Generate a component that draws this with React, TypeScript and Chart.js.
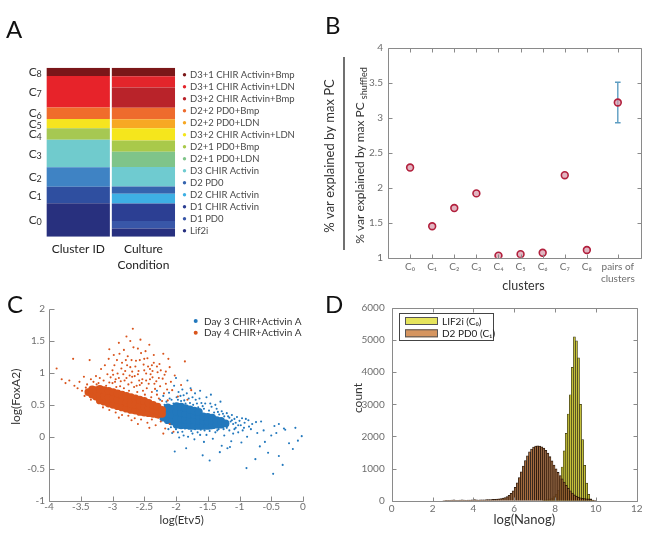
import React, { useEffect, useRef } from 'react';
import { Chart, registerables } from 'chart.js';

Chart.register(...registerables);

const FONT = "Lato, 'Noto Sans', 'DejaVu Sans', sans-serif";
const TICK_GRAY = '#6e6e6e';
const AXIS_GRAY = '#8a8a8a';

/* ---------- Panel A ---------- */
const clusterIds = ['C₀', 'C₁', 'C₂', 'C₃', 'C₄', 'C₅', 'C₆', 'C₇', 'C₈'];
const clusterShares = [19.8, 9.8, 11.5, 16.2, 6.9, 5.5, 6.7, 18.7, 4.9];
const clusterColors = ['#28307e', '#2f4fa0', '#3f83c4', '#70cbcd', '#a6c852', '#f5e41f', '#f06c2b', '#e7232a', '#7a1619'];
const cultureConditions = [
  'Lif2i', 'D1 PD0', 'D1 CHIR Activin', 'D2 CHIR Activin', 'D2 PD0', 'D3 CHIR Activin',
  'D2+1 PD0+LDN', 'D2+1 PD0+Bmp', 'D3+2 CHIR Activin+LDN', 'D2+2 PD0+LDN', 'D2+2 PD0+Bmp',
  'D3+2 CHIR Activin+Bmp', 'D3+1 CHIR Activin+LDN', 'D3+1 CHIR Activin+Bmp',
];
const cultureShares = [4.9, 4.4, 10.4, 5.7, 4.3, 11.5, 9.1, 6.6, 7.2, 5.4, 6.8, 12.0, 6.6, 5.1];
const cultureColors = ['#27307f', '#3957a8', '#2c3f93', '#3eb0e4', '#3564ae', '#6fcbd0', '#7fc48a', '#a9c94a', '#f5e61c', '#f7a823', '#ee6b2d', '#b9232a', '#e3252b', '#7b1718'];
const columnLabels = ['Cluster ID', ['Culture', 'Condition']];

/* ---------- Panel B ---------- */
const bLabels = ['C₀', 'C₁', 'C₂', 'C₃', 'C₄', 'C₅', 'C₆', 'C₇', 'C₈', ['pairs of', 'clusters']];
const bPositions = [1, 2, 3, 4, 5, 6, 7, 8, 9, 10.4];
const bValues = [2.29, 1.45, 1.71, 1.92, 1.03, 1.05, 1.07, 2.18, 1.11, 3.22];
const bErrLow = [null, null, null, null, null, null, null, null, null, 2.93];
const bErrHigh = [null, null, null, null, null, null, null, null, null, 3.51];

/* ---------- Panel C ---------- */
const cSeries = ['Day 3 CHIR+Activin A', 'Day 4 CHIR+Activin A'];
const cColors = ['#2278bd', '#d9541c'];
const day4Core = [
  [-3.38, 0.70], [-3.32, 0.66], [-3.32, 0.74], [-3.26, 0.63], [-3.26, 0.73],
  [-3.20, 0.57], [-3.20, 0.66], [-3.20, 0.75], [-3.13, 0.55], [-3.13, 0.64], [-3.13, 0.73],
  [-3.06, 0.52], [-3.06, 0.62], [-3.06, 0.72], [-2.99, 0.50], [-2.99, 0.60], [-2.99, 0.70],
  [-2.92, 0.48], [-2.92, 0.58], [-2.92, 0.68], [-2.85, 0.46], [-2.85, 0.56], [-2.85, 0.66],
  [-2.78, 0.44], [-2.78, 0.54], [-2.78, 0.64], [-2.71, 0.42], [-2.71, 0.52], [-2.71, 0.62],
  [-2.64, 0.41], [-2.64, 0.50], [-2.64, 0.60], [-2.57, 0.39], [-2.57, 0.49], [-2.57, 0.58],
  [-2.50, 0.38], [-2.50, 0.47], [-2.50, 0.56], [-2.43, 0.37], [-2.43, 0.45], [-2.43, 0.53],
  [-2.36, 0.36], [-2.36, 0.43], [-2.36, 0.50], [-2.29, 0.35], [-2.29, 0.41], [-2.29, 0.47],
  [-2.22, 0.36], [-2.22, 0.42],
];
const day4Spread = [
  [-3.88, 1.07], [-3.8, 0.9], [-3.74, 0.84], [-3.68, 0.88], [-3.62, 1.22], [-3.6, 0.8], [-3.55, 0.76],
  [-3.52, 0.86], [-3.48, 0.72], [-3.45, 0.94], [-3.44, 0.64], [-3.4, 0.82], [-3.36, 1.2], [-3.34, 0.58],
  [-3.3, 0.86], [-3.26, 0.95], [-3.22, 0.84], [-3.18, 1.06], [-3.14, 0.88], [-3.1, 0.8], [-3.06, 1.22],
  [-3.03, 0.93], [-3.0, 0.84], [-2.97, 1.12], [-2.94, 0.78], [-2.92, 0.99], [-2.89, 1.3], [-2.87, 0.87],
  [-2.85, 1.16], [-2.82, 0.76], [-2.8, 1.03], [-2.78, 0.92], [-2.76, 1.26], [-2.74, 0.72], [-2.72, 1.09],
  [-2.7, 0.85], [-2.67, 1.4], [-2.65, 0.95], [-2.63, 1.19], [-2.61, 0.7], [-2.59, 1.03], [-2.57, 0.81],
  [-2.55, 1.31], [-2.53, 0.9], [-2.51, 1.13], [-2.49, 0.66], [-2.47, 0.99], [-2.45, 1.23], [-2.43, 0.83],
  [-2.41, 1.06], [-2.39, 0.62], [-2.37, 0.93], [-2.35, 1.16], [-2.33, 0.75], [-2.31, 0.87], [-2.29, 1.01],
  [-2.27, 0.6], [-2.25, 0.79], [-2.21, 0.91], [-2.19, 0.68], [-2.16, 0.83], [-2.13, 0.57], [-2.1, 1.09],
  [-2.06, 0.73], [-2.02, 0.96], [-1.97, 0.63], [-1.92, 0.81], [-1.86, 1.18], [-1.82, 0.58], [-1.76, 0.73],
  [-2.95, 0.9], [-2.83, 0.98], [-2.69, 0.94], [-2.58, 0.88], [-2.46, 0.76], [-2.38, 0.7], [-2.62, 0.8],
  [-2.75, 0.82], [-2.88, 0.79], [-3.05, 0.85], [-2.52, 0.72], [-2.4, 0.98], [-2.3, 0.66], [-2.22, 0.56],
  [-2.68, 1.69], [-2.78, 1.57], [-2.9, 1.47], [-2.56, 1.52], [-3.05, 1.37], [-2.42, 1.44], [-2.2, 1.3],
  [-2.72, 1.5], [-2.6, 1.38], [-2.48, 1.34], [-2.82, 1.36], [-2.98, 1.28], [-2.35, 1.28], [-2.12, 1.22],
  [-3.15, 0.46], [-3.05, 0.42], [-2.95, 0.38], [-2.85, 0.34], [-2.75, 0.33], [-2.65, 0.29], [-2.55, 0.27],
  [-2.45, 0.22], [-2.38, 0.27], [-2.32, 0.18], [-2.24, 0.24], [-2.17, 0.13], [-2.1, 0.2], [-2.04, 0.08],
  [-2.6, 0.2], [-2.7, 0.26], [-2.9, 0.3], [-2.42, 0.14], [-2.28, 0.3], [-2.2, 0.05],
  [-3.08, 0.98], [-3.0, 1.04], [-2.96, 0.86], [-2.9, 0.92], [-2.86, 1.07], [-2.81, 0.88], [-2.77, 1.12],
  [-2.73, 0.96], [-2.69, 1.02], [-2.66, 0.78], [-2.64, 1.1], [-2.6, 0.98], [-2.57, 1.2], [-2.54, 0.84],
  [-2.5, 1.04], [-2.47, 0.88], [-2.44, 1.1], [-2.41, 0.9], [-2.37, 1.03], [-2.34, 0.83], [-2.3, 1.1],
  [-2.27, 0.92], [-2.24, 1.04], [-2.18, 0.97], [-2.14, 0.74], [-2.08, 0.86], [-3.2, 0.92], [-3.16, 0.78],
  [-3.25, 0.82], [-3.12, 1.12], [-2.99, 0.97], [-2.93, 1.2], [-2.79, 1.2], [-2.7, 1.2], [-2.5, 1.22],
  [-2.38, 1.12], [-2.26, 1.14], [-2.16, 1.02], [-3.34, 0.9], [-3.42, 0.77],
];
const day3Core = [
  [-2.20, 0.30], [-2.20, 0.40], [-2.13, 0.26], [-2.13, 0.36], [-2.13, 0.46],
  [-2.06, 0.24], [-2.06, 0.34], [-2.06, 0.44], [-1.99, 0.19], [-1.99, 0.29], [-1.99, 0.39], [-1.99, 0.48],
  [-1.92, 0.18], [-1.92, 0.28], [-1.92, 0.38], [-1.92, 0.47], [-1.85, 0.18], [-1.85, 0.27], [-1.85, 0.36], [-1.85, 0.45],
  [-1.78, 0.17], [-1.78, 0.26], [-1.78, 0.35], [-1.78, 0.43], [-1.71, 0.17], [-1.71, 0.26], [-1.71, 0.34], [-1.71, 0.41],
  [-1.64, 0.17], [-1.64, 0.25], [-1.64, 0.33], [-1.64, 0.39], [-1.57, 0.17], [-1.57, 0.25], [-1.57, 0.32],
  [-1.50, 0.17], [-1.50, 0.24], [-1.50, 0.31], [-1.43, 0.18], [-1.43, 0.25], [-1.43, 0.30],
  [-1.36, 0.19], [-1.36, 0.26], [-1.29, 0.19], [-1.29, 0.25], [-1.22, 0.21],
];
const day3Spread = [
  [-2.3, 0.72], [-2.25, 0.58], [-2.2, 0.64], [-2.15, 0.55], [-2.11, 0.69], [-2.07, 0.58], [-2.03, 0.8],
  [-1.99, 0.62], [-1.96, 0.7], [-1.92, 0.56], [-1.88, 0.65], [-1.85, 0.52], [-1.8, 0.6], [-1.77, 0.76],
  [-1.73, 0.5], [-1.69, 0.58], [-1.65, 0.46], [-1.6, 0.53], [-1.56, 0.44], [-1.52, 0.62], [-1.48, 0.41],
  [-1.44, 0.47], [-1.4, 0.38], [-1.36, 0.44], [-1.32, 0.35], [-1.28, 0.4], [-1.24, 0.32], [-1.2, 0.37],
  [-1.16, 0.3], [-1.12, 0.34], [-1.08, 0.28], [-1.04, 0.31], [-1.0, 0.25], [-0.96, 0.29], [-0.92, 0.22],
  [-0.86, 0.26], [-0.8, 0.2], [-0.74, 0.23], [-2.0, 0.92], [-1.82, 0.88], [-1.62, 0.72], [-1.45, 0.66],
  [-1.7, 0.68], [-1.9, 0.74], [-1.3, 0.55],
  [-2.12, 0.12], [-2.06, 0.06], [-2.0, 0.12], [-1.95, -0.01], [-1.9, 0.08], [-1.86, 0.13], [-1.81, 0.0],
  [-1.76, 0.09], [-1.71, -0.04], [-1.66, 0.07], [-1.61, 0.11], [-1.56, -0.08], [-1.52, 0.03], [-1.47, 0.09],
  [-1.42, -0.03], [-1.38, 0.07], [-1.33, 0.12], [-1.28, -0.14], [-1.24, 0.02], [-1.19, -0.18], [-1.16, 0.1],
  [-1.13, -0.07], [-1.1, 0.05], [-1.06, 0.14], [-1.02, 0.07], [-0.97, -0.09], [-1.58, -0.29], [-1.47, -0.37],
  [-1.31, -0.24], [-2.02, -0.23], [-1.84, -0.18], [-1.15, -0.16], [-1.4, 0.14], [-1.7, 0.12],
  [-0.88, 0.0], [-0.82, 0.12], [-0.72, 0.06], [-0.66, 0.24], [-0.6, -0.08], [-0.55, -0.25], [-0.5, 0.02],
  [-0.45, 0.17], [-0.42, 0.06], [-0.38, -0.3], [-0.32, -0.44], [-0.28, 0.11], [-0.22, -0.1], [-0.16, -0.19],
  [-0.12, 0.14], [-0.08, -0.06], [-0.02, 0.01], [-0.47, -0.58], [-0.89, -0.49], [-0.75, -0.35], [-0.38, 0.2],
  [-0.85, 0.16], [-0.3, 0.13], [-0.62, 0.1], [-0.95, 0.1], [-0.68, -0.15],
  [-2.18, 0.5], [-2.1, 0.6], [-2.04, 0.52], [-1.97, 0.58], [-1.93, 0.64], [-1.87, 0.57], [-1.83, 0.68],
  [-1.78, 0.53], [-1.74, 0.62], [-1.67, 0.52], [-1.63, 0.6], [-1.58, 0.48], [-1.54, 0.52], [-1.46, 0.52],
  [-1.38, 0.5], [-1.34, 0.39], [-1.26, 0.36], [-1.18, 0.32], [-1.14, 0.24], [-1.1, 0.2], [-1.06, 0.22],
  [-1.02, 0.18], [-1.2, 0.14], [-1.25, 0.12], [-1.35, 0.1], [-1.45, 0.13], [-1.55, 0.1], [-1.62, 0.03],
  [-1.74, 0.05], [-1.88, 0.02], [-1.97, 0.07], [-2.08, 0.15], [-1.12, 0.26], [-1.08, 0.12], [-0.98, 0.18],
  [-0.93, 0.14], [-0.9, 0.28],
];

/* ---------- Panel D ---------- */
const nanogSeries = ['LIF2i (C₀)', 'D2 PD0 (C₁)'];
const nanogBinCenters = [
  2.55, 2.65, 2.75, 2.85, 2.95,
  3.05, 3.15, 3.25, 3.35, 3.45, 3.55, 3.65, 3.75, 3.85, 3.95,
  4.05, 4.15, 4.25, 4.35, 4.45, 4.55, 4.65, 4.75, 4.85, 4.95,
  5.05, 5.15, 5.25, 5.35, 5.45, 5.55, 5.65, 5.75, 5.85, 5.95,
  6.05, 6.15, 6.25, 6.35, 6.45, 6.55, 6.65, 6.75, 6.85, 6.95,
  7.05, 7.15, 7.25, 7.35, 7.45, 7.55, 7.65, 7.75, 7.85, 7.95,
  8.05, 8.15, 8.25, 8.35, 8.45, 8.55, 8.65, 8.75, 8.85, 8.95,
  9.05, 9.15, 9.25, 9.35, 9.45, 9.55, 9.65, 9.75, 9.85, 9.95,
];
const lif2iCounts = [
  null, null, null, null, null,
  null, null, null, null, null, null, null, null, null, null,
  null, null, null, null, null, null, null, null, null, null,
  null, null, null, null, null, null, null, null, null, null,
  null, null, null, null, null, null, null, null, null, null,
  null, null, null, null, 15, 25, 35, 55, 85, 130,
  200, 320, 680, 1050, 1550, 2100, 2700, 3300, 4150, 5100,
  4980, 4450, 3000, 1900, 1100, 550, 200, 60, 15, null,
];
const d2pd0Counts = [
  5, 8, 10, 12, 20,
  25, 15, 12, 18, 30, 20, 15, 18, 22, 25,
  35, 25, 22, 25, 28, 30, 32, 35, 38, 40,
  45, 50, 58, 68, 80, 100, 130, 170, 230, 310,
  420, 560, 720, 900, 1080, 1250, 1400, 1520, 1610, 1670,
  1700, 1710, 1700, 1680, 1640, 1570, 1480, 1370, 1240, 1110,
  990, 880, 780, 680, 580, 480, 390, 310, 240, 180,
  140, 110, 90, 75, 65, 60, 55, 45, 20, 8,
];

/* ---------- helpers ---------- */
type TextItem = {
  text: string; x: number; y: number; font: string; color?: string; rotate?: boolean;
  align?: CanvasTextAlign; baseline?: CanvasTextBaseline; sub?: string; subFont?: string; subDy?: number;
};

function makeTexts(items: TextItem[]) {
  return {
    id: 'texts',
    afterDraw(chart: any) {
      const ctx = chart.ctx;
      for (const it of items) {
        ctx.save();
        ctx.translate(it.x, it.y);
        if (it.rotate) ctx.rotate(-Math.PI / 2);
        ctx.fillStyle = it.color || '#222';
        ctx.textBaseline = it.baseline || 'middle';
        ctx.font = it.font;
        if (it.sub) {
          const w1 = ctx.measureText(it.text).width;
          ctx.font = it.subFont;
          const w2 = ctx.measureText(it.sub).width;
          const start = -(w1 + w2) / 2;
          ctx.textAlign = 'left';
          ctx.font = it.font;
          ctx.fillText(it.text, start, 0);
          ctx.font = it.subFont;
          ctx.fillText(it.sub, start + w1, it.subDy || 0);
        } else {
          ctx.textAlign = it.align || 'center';
          ctx.fillText(it.text, 0, 0);
        }
        ctx.restore();
      }
    },
  };
}

function makeFrame(sides: string[], color: string, len: number) {
  return {
    id: 'frame',
    afterDraw(chart: any) {
      const { ctx, chartArea: ca } = chart;
      const xs = chart.scales.x;
      const ys = chart.scales.y;
      const L = Math.round(ca.left) + 0.5;
      const R = Math.round(ca.right) + 0.5;
      const T = Math.round(ca.top) + 0.5;
      const B = Math.round(ca.bottom) + 0.5;
      ctx.save();
      ctx.strokeStyle = color;
      ctx.lineWidth = 1;
      ctx.beginPath();
      if (sides.includes('left')) { ctx.moveTo(L, T); ctx.lineTo(L, B); }
      if (sides.includes('right')) { ctx.moveTo(R, T); ctx.lineTo(R, B); }
      if (sides.includes('top')) { ctx.moveTo(L, T); ctx.lineTo(R, T); }
      if (sides.includes('bottom')) { ctx.moveTo(L, B); ctx.lineTo(R, B); }
      xs.ticks.forEach((t: any) => {
        const p = Math.round(xs.getPixelForValue(t.value)) + 0.5;
        if (sides.includes('bottom')) { ctx.moveTo(p, B); ctx.lineTo(p, B - len); }
        if (sides.includes('top')) { ctx.moveTo(p, T); ctx.lineTo(p, T + len); }
      });
      ys.ticks.forEach((t: any) => {
        const p = Math.round(ys.getPixelForValue(t.value)) + 0.5;
        if (sides.includes('left')) { ctx.moveTo(L, p); ctx.lineTo(L + len, p); }
        if (sides.includes('right')) { ctx.moveTo(R, p); ctx.lineTo(R - len, p); }
      });
      ctx.stroke();
      ctx.restore();
    },
  };
}

const baseOptions = {
  responsive: false,
  maintainAspectRatio: false,
  animation: false,
  events: [],
};

const tickFont = { family: FONT, size: 10, lineHeight: 1.2 };

/* ---------- chart configs ---------- */
function configA(): any {
  const datasets = [
    ...clusterShares.map((v, i) => ({ label: clusterIds[i], data: [v, null], backgroundColor: clusterColors[i], stack: 's' })),
    ...cultureShares.map((v, i) => ({ label: cultureConditions[i], data: [null, v], backgroundColor: cultureColors[i], stack: 's' })),
  ];
  const legendA = {
    id: 'legendA',
    afterDraw(chart: any) {
      const { ctx, chartArea: ca } = chart;
      ctx.save();
      ctx.font = `9.5px ${FONT}`;
      ctx.textBaseline = 'middle';
      ctx.textAlign = 'left';
      const n = cultureConditions.length;
      for (let i = 0; i < n; i++) {
        const k = n - 1 - i;
        const y = ca.top + 7 + 12 * i;
        ctx.fillStyle = cultureColors[k];
        ctx.beginPath();
        ctx.arc(ca.right + 8.5, y, 1.7, 0, Math.PI * 2);
        ctx.fill();
        ctx.fillStyle = '#4a4a4a';
        ctx.fillText(cultureConditions[k], ca.right + 14, y + 0.5);
      }
      ctx.restore();
    },
  };
  // Cluster-ID labels on the y scale: "C" with a smaller, lowered index digit.
  const clusterLabels = {
    id: 'clusterLabels',
    afterDraw(chart: any) {
      const { ctx, chartArea: ca } = chart;
      const ys = chart.scales.y;
      ctx.save();
      ctx.fillStyle = '#333';
      ctx.textBaseline = 'alphabetic';
      ys.ticks.forEach((t: any, i: number) => {
        const y = ys.getPixelForValue(t.value) + 4;
        const digit = String(i);
        ctx.font = `9px ${FONT}`;
        const wd = ctx.measureText(digit).width;
        ctx.textAlign = 'right';
        const xr = ca.left - 4;
        ctx.fillText(digit, xr, y + 1.5);
        ctx.font = `12px ${FONT}`;
        ctx.fillText('C', xr - wd + 0.3, y);
      });
      ctx.restore();
    },
  };
  return {
    type: 'bar',
    data: { labels: columnLabels, datasets },
    options: {
      ...baseOptions,
      layout: { padding: { left: 0, top: 27.7, right: 144, bottom: 0 } },
      datasets: { bar: { barPercentage: 0.97, categoryPercentage: 1, borderWidth: 0 } },
      plugins: { legend: { display: false }, tooltip: { enabled: false } },
      scales: {
        x: {
          type: 'category', stacked: true,
          grid: { display: false, drawTicks: false }, border: { display: false },
          afterFit: (s: any) => { s.height = 43.3; },
          ticks: { color: '#222', font: { family: FONT, size: 12, lineHeight: 1.35 }, padding: 4.2, maxRotation: 0, autoSkip: false },
        },
        y: {
          type: 'linear', stacked: true, min: 0, max: 100,
          grid: { display: false, drawTicks: false }, border: { display: false },
          afterFit: (s: any) => { s.width = 45.7; },
          afterBuildTicks: (s: any) => {
            let acc = 0;
            s.ticks = clusterShares.map((v) => { const c = acc + v / 2; acc += v; return { value: c }; });
          },
          ticks: { display: false, autoSkip: false },
        },
      },
    },
    plugins: [legendA, clusterLabels],
  };
}

function configB(): any {
  const errorBars = {
    id: 'errorBars',
    beforeDatasetsDraw(chart: any) {
      const { ctx } = chart;
      const xs = chart.scales.x;
      const ys = chart.scales.y;
      ctx.save();
      ctx.strokeStyle = '#5d9dc2';
      ctx.lineWidth = 1.4;
      bPositions.forEach((p, i) => {
        const lo = bErrLow[i];
        const hi = bErrHigh[i];
        if (lo == null || hi == null) return;
        const px = xs.getPixelForValue(p);
        const y1 = ys.getPixelForValue(lo);
        const y2 = ys.getPixelForValue(hi);
        ctx.beginPath();
        ctx.moveTo(px, y1); ctx.lineTo(px, y2);
        ctx.moveTo(px - 2.8, y1); ctx.lineTo(px + 2.8, y1);
        ctx.moveTo(px - 2.8, y2); ctx.lineTo(px + 2.8, y2);
        ctx.stroke();
      });
      ctx.restore();
    },
  };
  const divider = {
    id: 'divider',
    afterDraw(chart: any) {
      const ctx = chart.ctx;
      ctx.save();
      ctx.strokeStyle = '#111';
      ctx.lineWidth = 1.2;
      ctx.beginPath();
      ctx.moveTo(26, 57); ctx.lineTo(26, 250);
      ctx.stroke();
      ctx.restore();
    },
  };
  const texts = makeTexts([
    { text: '% var explained by max PC', x: 16, y: 156, rotate: true, font: `13px ${FONT}`, color: '#333', baseline: 'alphabetic' },
    { text: '% var explained by max PC ', sub: 'shuffled', x: 46, y: 155.5, rotate: true, font: `12px ${FONT}`, subFont: `9px ${FONT}`, subDy: 2.5, color: '#333', baseline: 'alphabetic' },
    { text: 'clusters', x: 205.5, y: 286, font: `12.5px ${FONT}`, color: '#333' },
  ]);
  return {
    type: 'scatter',
    data: {
      datasets: [{
        data: bPositions.map((x, i) => ({ x, y: bValues[i] })),
        pointRadius: 3.4, pointBorderWidth: 1.6,
        pointBorderColor: '#b2203d', pointBackgroundColor: 'rgba(214,150,166,0.7)',
      }],
    },
    options: {
      ...baseOptions,
      layout: { padding: { left: 0, right: 9, top: 48, bottom: 0 } },
      plugins: { legend: { display: false }, tooltip: { enabled: false } },
      scales: {
        x: {
          type: 'linear', min: 0, max: 11.45,
          grid: { display: false, drawTicks: false }, border: { display: false },
          afterFit: (s: any) => { s.height = 42.3; },
          afterBuildTicks: (s: any) => { s.ticks = bPositions.map((v) => ({ value: v })); },
          ticks: { callback: (_v: any, i: number) => bLabels[i], color: TICK_GRAY, font: tickFont, padding: 3.3, autoSkip: false, maxRotation: 0 },
        },
        y: {
          type: 'linear', min: 1, max: 4,
          grid: { display: false, drawTicks: false }, border: { display: false },
          afterFit: (s: any) => { s.width = 70; },
          ticks: { stepSize: 0.5, callback: (v: any) => String(v), color: TICK_GRAY, font: tickFont, padding: 5 },
        },
      },
    },
    plugins: [errorBars, makeFrame(['left', 'right', 'top', 'bottom'], AXIS_GRAY, 4), divider, texts],
  };
}

function configC(): any {
  const toPts = (arr: number[][]) => arr.map(([x, y]) => ({ x, y }));
  const legendC = {
    id: 'legendC',
    afterDraw(chart: any) {
      const ctx = chart.ctx;
      ctx.save();
      ctx.font = `10px ${FONT}`;
      ctx.textBaseline = 'middle';
      ctx.textAlign = 'left';
      cSeries.forEach((name, i) => {
        const y = 41 + 11.7 * i;
        ctx.fillStyle = cColors[i];
        ctx.beginPath();
        ctx.arc(195.7, y, 2, 0, Math.PI * 2);
        ctx.fill();
        ctx.fillStyle = '#333';
        ctx.fillText(name, 204, y + 0.5);
      });
      ctx.restore();
    },
  };
  const texts = makeTexts([
    { text: 'log(Etv5)', x: 181.7, y: 240, font: `11.5px ${FONT}`, color: '#333' },
    { text: 'log(FoxA2)', x: 20, y: 116.7, rotate: true, font: `12px ${FONT}`, color: '#333', baseline: 'alphabetic' },
  ]);
  return {
    type: 'scatter',
    data: {
      datasets: [
        { label: cSeries[1], data: toPts(day4Spread), pointRadius: 1.05, backgroundColor: cColors[1], borderWidth: 0 },
        { label: cSeries[1], data: toPts(day4Core), pointRadius: 3.9, backgroundColor: cColors[1], borderWidth: 0 },
        { label: cSeries[0], data: toPts(day3Spread), pointRadius: 1.05, backgroundColor: cColors[0], borderWidth: 0 },
        { label: cSeries[0], data: toPts(day3Core), pointRadius: 3.9, backgroundColor: cColors[0], borderWidth: 0 },
      ],
    },
    options: {
      ...baseOptions,
      layout: { padding: { left: 0, right: 22, top: 29, bottom: 0 } },
      plugins: { legend: { display: false }, tooltip: { enabled: false } },
      scales: {
        x: {
          type: 'linear', min: -4, max: 0,
          grid: { display: false, drawTicks: false }, border: { display: false },
          afterFit: (s: any) => { s.height = 36.3; },
          ticks: { stepSize: 0.5, callback: (v: any) => String(v), color: TICK_GRAY, font: tickFont, padding: 0, maxRotation: 0, autoSkip: false },
        },
        y: {
          type: 'linear', min: -1, max: 2,
          grid: { display: false, drawTicks: false }, border: { display: false },
          afterFit: (s: any) => { s.width = 49; },
          ticks: { stepSize: 0.5, callback: (v: any) => String(v), color: TICK_GRAY, font: tickFont, padding: 4 },
        },
      },
    },
    plugins: [makeFrame(['left', 'bottom'], AXIS_GRAY, 5), legendC, texts],
  };
}

function configD(): any {
  const fills = ['rgba(208,204,62,0.92)', 'rgba(186,116,62,0.82)'];
  const borders = ['rgba(45,42,8,0.95)', 'rgba(30,15,4,0.95)'];
  const swatches = ['#e6e45c', '#d6955f'];
  const legendD = {
    id: 'legendD',
    afterDraw(chart: any) {
      const ctx = chart.ctx;
      ctx.save();
      ctx.fillStyle = '#fff';
      ctx.fillRect(81.5, 33.5, 94, 27);
      ctx.strokeStyle = '#444';
      ctx.lineWidth = 1;
      ctx.strokeRect(81.5, 33.5, 94, 27);
      nanogSeries.forEach((name, i) => {
        const cy = 41 + 12.3 * i;
        ctx.fillStyle = swatches[i];
        ctx.fillRect(87, cy - 4, 33, 8);
        ctx.strokeStyle = '#555';
        ctx.strokeRect(87.5, cy - 3.5, 32, 7);
        ctx.fillStyle = '#222';
        ctx.font = `10px ${FONT}`;
        ctx.textBaseline = 'middle';
        ctx.textAlign = 'left';
        ctx.fillText(name, 124, cy + 0.5);
      });
      ctx.restore();
    },
  };
  const texts = makeTexts([
    { text: 'log(Nanog)', x: 206.3, y: 240, font: `13px ${FONT}`, color: '#333' },
    { text: 'count', x: 44, y: 118, rotate: true, font: `12px ${FONT}`, color: '#333', baseline: 'alphabetic' },
  ]);
  return {
    type: 'bar',
    data: {
      datasets: [
        {
          label: nanogSeries[1],
          data: nanogBinCenters.map((x, i) => ({ x, y: d2pd0Counts[i] })),
          backgroundColor: fills[1], borderColor: borders[1], borderWidth: 0.8,
        },
        {
          label: nanogSeries[0],
          data: nanogBinCenters.map((x, i) => ({ x, y: lif2iCounts[i] })),
          backgroundColor: fills[0], borderColor: borders[0], borderWidth: 0.7,
        },
      ],
    },
    options: {
      ...baseOptions,
      layout: { padding: { left: 0, right: 13.3, top: 28, bottom: 0 } },
      datasets: { bar: { grouped: false, barPercentage: 1, categoryPercentage: 1 } },
      plugins: { legend: { display: false }, tooltip: { enabled: false } },
      scales: {
        x: {
          type: 'linear', min: 0, max: 12, offset: false,
          grid: { display: false, drawTicks: false, offset: false }, border: { display: false },
          afterFit: (s: any) => { s.height = 36.3; },
          ticks: { stepSize: 2, callback: (v: any) => String(v), color: TICK_GRAY, font: tickFont, padding: 1.8, maxRotation: 0, autoSkip: false },
        },
        y: {
          type: 'linear', min: 0, max: 6000,
          grid: { display: false, drawTicks: false }, border: { display: false },
          afterFit: (s: any) => { s.width = 73.7; },
          ticks: { stepSize: 1000, callback: (v: any) => String(v), color: TICK_GRAY, font: tickFont, padding: 7 },
        },
      },
    },
    plugins: [makeFrame(['left', 'right', 'top', 'bottom'], AXIS_GRAY, 4), legendD, texts],
  };
}

const letterStyle = (left: number, top: number): React.CSSProperties => ({
  position: 'absolute', left, top, fontFamily: FONT, fontSize: 24, lineHeight: '24px', color: '#111',
});

export default function App() {
  const aRef = useRef<HTMLCanvasElement>(null);
  const bRef = useRef<HTMLCanvasElement>(null);
  const cRef = useRef<HTMLCanvasElement>(null);
  const dRef = useRef<HTMLCanvasElement>(null);

  useEffect(() => {
    Chart.defaults.font.family = FONT;
    const charts: Chart[] = [
      new Chart(aRef.current!, configA()),
      new Chart(bRef.current!, configB()),
      new Chart(cRef.current!, configC()),
      new Chart(dRef.current!, configD()),
    ];
    return () => charts.forEach((c) => c.destroy());
  }, []);

  return (
    <div style={{ position: 'absolute', left: 0, top: 0, width: 650, height: 537, background: '#fff', overflow: 'hidden' }}>
      <canvas ref={aRef} width={320} height={240} style={{ position: 'absolute', left: 0, top: 40, width: 320, height: 240 }} />
      <canvas ref={bRef} width={332} height={300} style={{ position: 'absolute', left: 318, top: 0, width: 332, height: 300 }} />
      <canvas ref={cRef} width={325} height={257} style={{ position: 'absolute', left: 0, top: 280, width: 325, height: 257 }} />
      <canvas ref={dRef} width={332} height={257} style={{ position: 'absolute', left: 318, top: 280, width: 332, height: 257 }} />
      <div style={letterStyle(6, 17)}>A</div>
      <div style={letterStyle(325, 13)}>B</div>
      <div style={letterStyle(7, 292)}>C</div>
      <div style={letterStyle(325, 292)}>D</div>
    </div>
  );
}
